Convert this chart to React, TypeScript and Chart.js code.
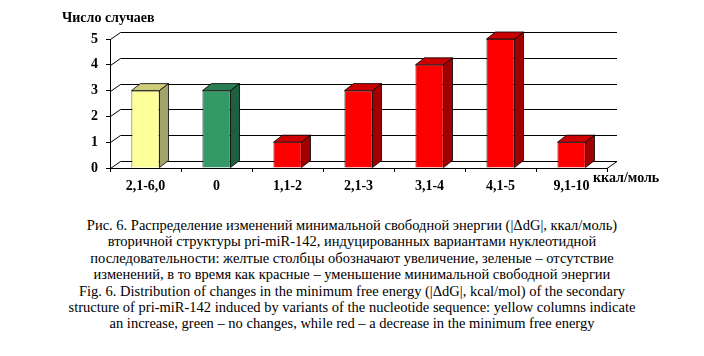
import React, { useEffect, useRef } from "react";
import { Chart, registerables } from "chart.js";

Chart.register(...registerables);

const categories = ["2,1-6,0", "0", "1,1-2", "2,1-3", "3,1-4", "4,1-5", "9,1-10"];
const counts = [3, 3, 1, 3, 4, 5, 1];
const changeKind = ["increase", "none", "decrease", "decrease", "decrease", "decrease", "decrease"];
const yTicks = [0, 1, 2, 3, 4, 5];
const yAxisTitle = "Число случаев";
const xAxisTitle = "ккал/моль";
const captionLines = [
  "Рис. 6. Распределение изменений минимальной свободной энергии (|ΔdG|, ккал/моль)",
  "вторичной структуры pri-miR-142, индуцированных вариантами нуклеотидной",
  "последовательности: желтые столбцы обозначают увеличение, зеленые – отсутствие",
  "изменений, в то время как красные – уменьшение минимальной свободной энергии",
  "Fig. 6. Distribution of changes in the minimum free energy (|ΔdG|, kcal/mol) of the secondary",
  "structure of pri-miR-142 induced by variants of the nucleotide sequence: yellow columns indicate",
  "an increase, green – no changes, while red – a decrease in the minimum free energy",
];

const palette: Record<string, { front: string; side: string; top: string }> = {
  increase: { front: "#FFFF99", side: "#A3A36B", top: "#CCCC7A" },
  none: { front: "#339966", side: "#1F5E3E", top: "#2A7D53" },
  decrease: { front: "#FF0000", side: "#A00000", top: "#CC0000" },
};

const FONT = "'Liberation Serif', 'Times New Roman', serif";
const WALL_DX = 10;
const WALL_DY = 7;
const BAR_DX = 9;
const BAR_DY = 7;

const threeD = {
  id: "threeD",
  beforeDatasetsDraw(chart: any) {
    const { ctx, chartArea } = chart;
    const { left, right, bottom } = chartArea;
    const y = chart.scales.y;
    ctx.save();
    ctx.strokeStyle = "#000";
    ctx.lineWidth = 1;
    yTicks.forEach((v) => {
      const yy = Math.round(y.getPixelForValue(v)) + 0.5;
      ctx.beginPath();
      ctx.moveTo(left + 0.5, yy);
      ctx.lineTo(left + WALL_DX + 0.5, yy - WALL_DY);
      ctx.lineTo(right + WALL_DX, yy - WALL_DY);
      ctx.stroke();
    });
    const by = Math.round(bottom) + 0.5;
    ctx.beginPath();
    ctx.moveTo(right, by);
    ctx.lineTo(right + WALL_DX, by - WALL_DY);
    ctx.stroke();
    ctx.restore();
  },
  afterDatasetsDraw(chart: any) {
    const { ctx } = chart;
    const meta = chart.getDatasetMeta(0);
    ctx.save();
    ctx.strokeStyle = "#000";
    ctx.lineWidth = 0.8;
    meta.data.forEach((bar: any, i: number) => {
      const p = bar.getProps(["x", "y", "base", "width"], true);
      const x1 = p.x - p.width / 2;
      const x2 = p.x + p.width / 2;
      const c = palette[changeKind[i]];
      ctx.fillStyle = c.top;
      ctx.beginPath();
      ctx.moveTo(x1, p.y);
      ctx.lineTo(x1 + BAR_DX, p.y - BAR_DY);
      ctx.lineTo(x2 + BAR_DX, p.y - BAR_DY);
      ctx.lineTo(x2, p.y);
      ctx.closePath();
      ctx.fill();
      ctx.stroke();
      ctx.fillStyle = c.side;
      ctx.beginPath();
      ctx.moveTo(x2, p.y);
      ctx.lineTo(x2 + BAR_DX, p.y - BAR_DY);
      ctx.lineTo(x2 + BAR_DX, p.base - BAR_DY);
      ctx.lineTo(x2, p.base);
      ctx.closePath();
      ctx.fill();
      ctx.stroke();
    });
    ctx.restore();
  },
  afterDraw(chart: any) {
    const { ctx } = chart;
    ctx.save();
    ctx.fillStyle = "#000";
    ctx.font = `bold 14px ${FONT}`;
    ctx.textBaseline = "middle";
    ctx.textAlign = "left";
    ctx.fillText(yAxisTitle, 62, 18);
    ctx.fillText(xAxisTitle, 593, 178);
    ctx.restore();
  },
};

export default function App() {
  const ref = useRef<HTMLCanvasElement>(null);
  useEffect(() => {
    if (!ref.current) return;
    const chart = new Chart(ref.current, {
      type: "bar",
      data: {
        labels: categories,
        datasets: [
          {
            data: counts,
            backgroundColor: changeKind.map((k) => palette[k].front),
            borderColor: "#000",
            borderWidth: 0.8,
            categoryPercentage: 1,
            barPercentage: 0.395,
          },
        ],
      },
      options: {
        responsive: false,
        animation: false,
        devicePixelRatio: 1,
        layout: { padding: { left: 0, right: 97, top: 39, bottom: 0 } },
        plugins: { legend: { display: false }, tooltip: { enabled: false }, title: { display: false } },
        scales: {
          x: {
            grid: { offset: true, drawOnChartArea: false, color: "#000", tickLength: 4 },
            border: { display: true, color: "#000" },
            ticks: { color: "#000", font: { family: FONT, size: 14, weight: "bold" }, padding: 6, maxRotation: 0 },
            afterFit: (s: any) => {
              s.height = 32;
            },
          },
          y: {
            min: 0,
            max: 5,
            ticks: { stepSize: 1, color: "#000", font: { family: FONT, size: 14, weight: "bold" }, padding: 8 },
            grid: { drawOnChartArea: false, color: "#000", tickLength: 4 },
            border: { display: true, color: "#000" },
            afterFit: (s: any) => {
              s.width = 110;
            },
          },
        },
      },
      plugins: [threeD],
    });
    return () => chart.destroy();
  }, []);

  return (
    <div style={{ position: "absolute", left: 0, top: 0, width: 704, height: 356, background: "#fff" }}>
      <canvas ref={ref} width={704} height={200} style={{ display: "block", width: 704, height: 200 }} />
      <div
        style={{
          position: "absolute",
          left: 0,
          top: 217,
          width: 704,
          textAlign: "center",
          fontFamily: FONT,
          fontSize: 14.5,
          lineHeight: "16.4px",
          color: "#000",
          whiteSpace: "nowrap",
        }}
      >
        {captionLines.map((l, i) => (
          <div key={i}>{l}</div>
        ))}
      </div>
    </div>
  );
}
